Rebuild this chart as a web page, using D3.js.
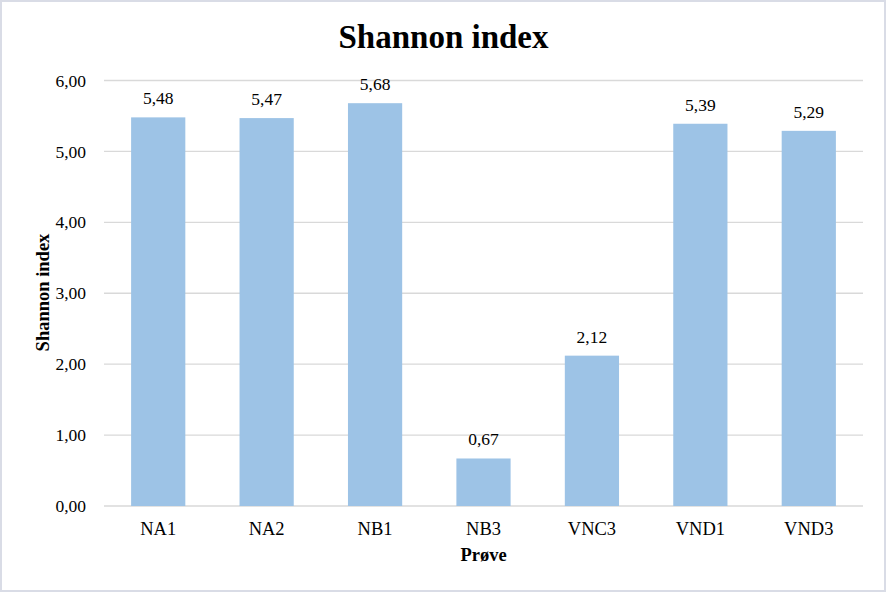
<!DOCTYPE html>
<html><head><meta charset="utf-8">
<script src="https://cdn.jsdelivr.net/npm/d3@7"></script>
<style>html,body{margin:0;padding:0;background:#fff;}svg{display:block;}</style>
</head><body>
<script>
const categories = ["NA1","NA2","NB1","NB3","VNC3","VND1","VND3"];
const values = [5.48,5.47,5.68,0.67,2.12,5.39,5.29];
const yTicks = [0,1,2,3,4,5,6];
const title = "Shannon index";
const yTitle = "Shannon index";
const xTitle = "Prøve";

const W = 887, H = 593;
const svg = d3.select("body").append("svg").attr("width", W).attr("height", H);
const font = "'Liberation Serif','Times New Roman',serif";
svg.append("rect").attr("x",1).attr("y",1).attr("width",W-3).attr("height",H-3)
  .attr("fill","#fff").attr("stroke","#d9dce6").attr("stroke-width",2);

const m = {left:104, right:863, top:80.5, bottom:506};
const x = d3.scaleBand().domain(categories).range([m.left, m.right]).paddingInner(0.5).paddingOuter(0.25);
const y = d3.scaleLinear().domain([0,6]).range([m.bottom, m.top]);
const fmt = v => d3.format(".2f")(v).replace(".", ",");

const g = svg.append("g");
g.selectAll("line.grid").data(yTicks).join("line")
  .attr("x1", m.left).attr("x2", m.right)
  .attr("y1", d=>y(d)).attr("y2", d=>y(d))
  .attr("stroke","#d9d9d9").attr("stroke-width",1.3);

g.selectAll("text.yt").data(yTicks).join("text")
  .attr("x", 86).attr("y", d=>y(d)).attr("dy","0.35em")
  .attr("text-anchor","end").attr("font-family",font).attr("font-size",17.5).attr("fill","#000")
  .text(d=>fmt(d));

g.selectAll("rect.bar").data(values).join("rect")
  .attr("x",(d,i)=>x(categories[i])).attr("width",x.bandwidth())
  .attr("y",d=>y(d)).attr("height",d=>y(0)-y(d)).attr("fill","#9dc3e6");

g.selectAll("text.lbl").data(values).join("text")
  .attr("x",(d,i)=>x(categories[i])+x.bandwidth()/2).attr("y",d=>y(d)-13)
  .attr("text-anchor","middle").attr("font-family",font).attr("font-size",17.5).attr("fill","#000")
  .text(d=>fmt(d));

g.selectAll("text.xt").data(categories).join("text")
  .attr("x",d=>x(d)+x.bandwidth()/2).attr("y",535)
  .attr("text-anchor","middle").attr("font-family",font).attr("font-size",18.5).attr("fill","#000")
  .text(d=>d);

svg.append("text").attr("x",443.5).attr("y",48).attr("text-anchor","middle")
  .attr("font-family",font).attr("font-size",33).attr("font-weight","bold").text(title);
svg.append("text").attr("x",(m.left+m.right)/2).attr("y",561).attr("text-anchor","middle")
  .attr("font-family",font).attr("font-size",18.5).attr("font-weight","bold").text(xTitle);
svg.append("text").attr("transform",`translate(49,292.5) rotate(-90)`)
  .attr("text-anchor","middle").attr("font-family",font).attr("font-size",18.5).attr("font-weight","bold").text(yTitle);
</script>
</body></html>
